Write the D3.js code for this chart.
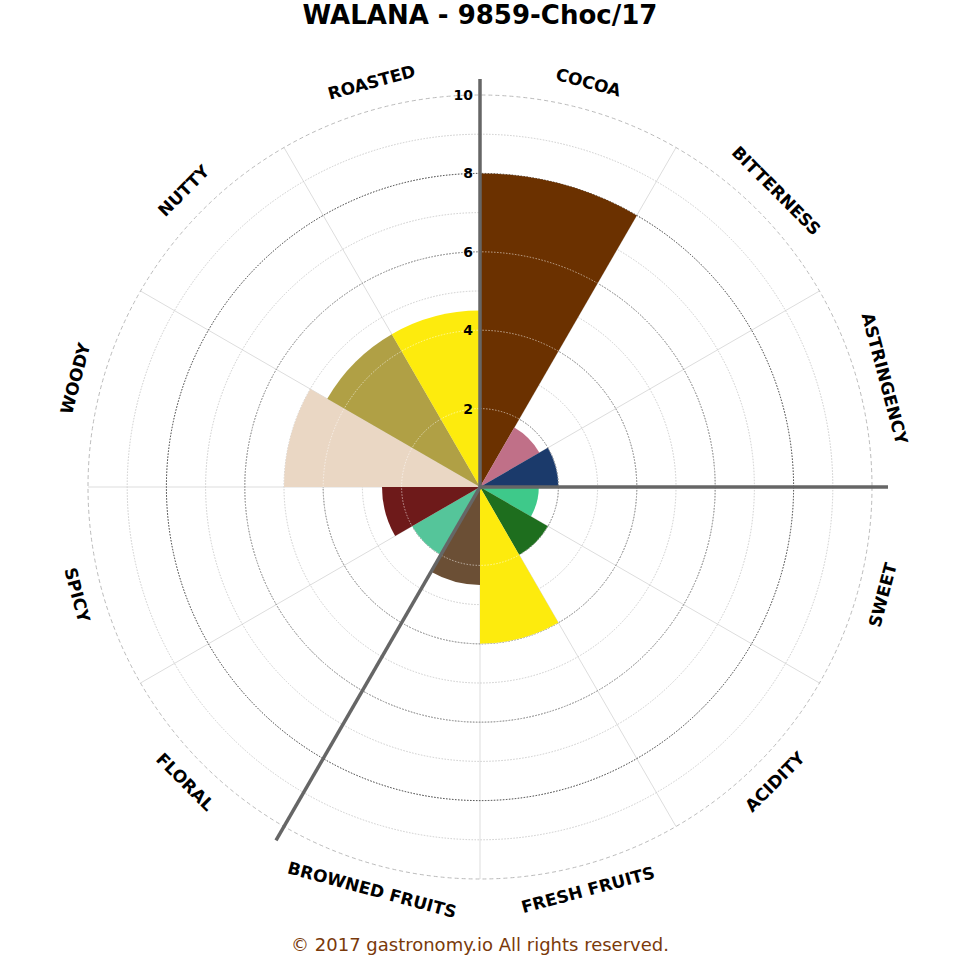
<!DOCTYPE html>
<html><head><meta charset="utf-8">
<script src="https://cdn.jsdelivr.net/npm/d3@7"></script>
<style>body{margin:0;background:#fff}</style></head>
<body><svg id="c" width="960" height="960"></svg>
<script>
const categories = ["COCOA","BITTERNESS","ASTRINGENCY","SWEET","ACIDITY","FRESH FRUITS","BROWNED FRUITS","FLORAL","SPICY","WOODY","NUTTY","ROASTED"];
const values = [8, 1.75, 2, 1.5, 2, 4, 2.5, 2, 2.5, 5, 4.5, 4.5];
const colors = ["#6B3100","#C07088","#1B3A6B","#3EC98A","#1E6E1E","#FDEB0D","#6B4F35","#55C59A","#6E1A1A","#EAD7C4","#B0A045","#FDEB0D"];
const ticks = [2,4,6,8,10];
const title = "WALANA - 9859-Choc/17";
const footer = "© 2017 gastronomy.io All rights reserved.";

const svg = d3.select("#c");
const cx = 480, cy = 487;
const r = d3.scaleLinear().domain([0,10]).range([0,392]);
const ang = d3.scaleBand().domain(categories).range([0, 2*Math.PI]);
const g = svg.append("g").attr("transform",`translate(${cx},${cy})`);

// spokes
categories.forEach(c=>{
  const a = ang(c);
  g.append("line").attr("x1",0).attr("y1",0)
    .attr("x2",r(10)*Math.sin(a)).attr("y2",-r(10)*Math.cos(a))
    .attr("stroke","#ddd").attr("stroke-width",1);
});
// circles
d3.range(1,10).forEach(v=>{
  g.append("circle").attr("r",r(v)).attr("fill","none")
    .attr("stroke", v%2===0 ? "#333" : "#ccc").attr("stroke-width",1)
    .attr("stroke-dasharray", "1.5,1.5");
});
g.append("circle").attr("r",r(10)).attr("fill","none").attr("stroke","#bbb").attr("stroke-dasharray","4,3");

// bars
const arc = d3.arc().innerRadius(0);
g.selectAll("path.bar").data(categories).join("path").attr("class","bar")
  .attr("d",(c,i)=>arc({outerRadius:r(values[i]),startAngle:ang(c),endAngle:ang(c)+ang.bandwidth()}))
  .attr("fill",(c,i)=>colors[i]);

// light dotted circles over bars
[2,4,6].forEach(v=>{
  g.append("circle").attr("r",r(v)).attr("fill","none")
    .attr("stroke","#fff").attr("stroke-opacity",0.55).attr("stroke-width",1)
    .attr("stroke-dasharray","1.5,1.5");
});

// thick axes
[0, Math.PI/2, Math.PI*7/6].forEach(a=>{
  g.append("line").attr("x1",0).attr("y1",0)
    .attr("x2",408*Math.sin(a)).attr("y2",-408*Math.cos(a))
    .attr("stroke","#666").attr("stroke-width",3.5);
});

// tick labels
ticks.forEach(t=>{
  g.append("text").attr("x",-7).attr("y",-r(t)+5).attr("text-anchor","end")
    .attr("font-family","DejaVu Sans").attr("font-weight","bold").attr("font-size",14).text(t);
});

// category labels
categories.forEach(c=>{
  const a = ang(c) + ang.bandwidth()/2;
  const deg = a*180/Math.PI;
  const R = 418;
  const x = R*Math.sin(a), y = -R*Math.cos(a);
  const rot = (deg>90 && deg<270) ? deg-180 : deg;
  g.append("text").attr("transform",`translate(${x},${y}) rotate(${rot})`)
    .attr("text-anchor","middle").attr("dominant-baseline","middle")
    .attr("font-family","DejaVu Sans").attr("font-weight","bold").attr("font-size",17).text(c);
});

svg.append("text").attr("x",480).attr("y",24).attr("text-anchor","middle")
  .attr("font-family","DejaVu Sans").attr("font-weight","bold").attr("font-size",26).text(title);
svg.append("text").attr("x",480).attr("y",951).attr("text-anchor","middle")
  .attr("font-family","DejaVu Sans").attr("font-size",18).attr("fill","#7A3A0A").text(footer);
</script></body></html>
